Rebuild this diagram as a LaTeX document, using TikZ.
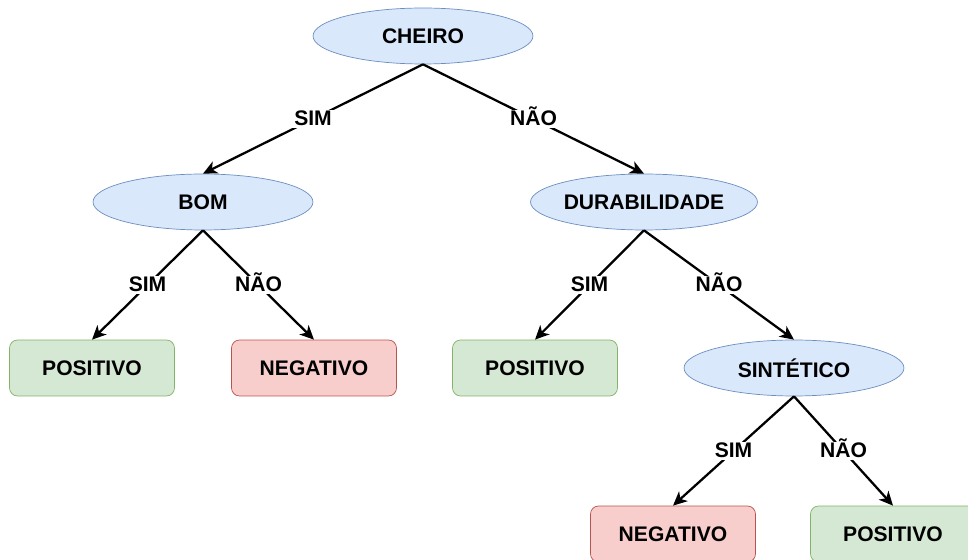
\documentclass[tikz,border=0pt]{standalone}
\usepackage{fontspec}
\setmainfont{Liberation Sans}
\usetikzlibrary{arrows.meta,shapes.geometric}
\definecolor{BlueFill}{HTML}{DAE8FC}
\definecolor{BlueLine}{HTML}{6C8EBF}
\definecolor{GreenFill}{HTML}{D5E8D4}
\definecolor{GreenLine}{HTML}{82B366}
\definecolor{RedFill}{HTML}{F8CECC}
\definecolor{RedLine}{HTML}{B85450}

\begin{document}
\begin{tikzpicture}[x=.02cm,y=-.02cm,
    font=\fontsize{12}{14}\selectfont\bfseries,
    test/.style={ellipse,draw=BlueLine,fill=BlueFill,minimum width=4.4cm,minimum height=1.12cm,inner sep=0pt},
    leaf/.style={rectangle,rounded corners=.16cm,minimum width=3.3cm,minimum height=1.12cm},
    good/.style={leaf,draw=GreenLine,fill=GreenFill},
    bad/.style={leaf,draw=RedLine,fill=RedFill},
    branch/.style={-{Stealth[length=.28cm,width=.26cm,inset=.08cm]},line width=1.3pt},
    answer/.style={fill=white,inner sep=1.5pt,text height=.72em,text depth=0pt,midway}]
        \clip(0,0)rectangle(968,560);
        % questions
        \node[test](cheiro)at(423,36){CHEIRO};
        \node[test](bom)at(203,202){BOM};
        \node[test](durab)at(644,202){DURABILIDADE};
        \node[test](sint)at(794,368){SINTÉTICO};
        % answers
        \node[good](pos1)at(92,368){POSITIVO};
        \node[bad](neg1)at(314,368){NEGATIVO};
        \node[good](pos2)at(535,368){POSITIVO};
        \node[bad](neg2)at(673,534){NEGATIVO};
        \node[good](pos3)at(893,534){POSITIVO};
        % branches
        \draw[branch](cheiro.south)--node[answer]{SIM}(bom.north);
        \draw[branch](cheiro.south)--node[answer]{NÃO}(durab.north);
        \draw[branch](bom.south)--node[answer]{SIM}(pos1.north);
        \draw[branch](bom.south)--node[answer]{NÃO}(neg1.north);
        \draw[branch](durab.south)--node[answer]{SIM}(pos2.north);
        \draw[branch](durab.south)--node[answer]{NÃO}(sint.north);
        \draw[branch](sint.south)--node[answer]{SIM}(neg2.north);
        \draw[branch](sint.south)--node[answer]{NÃO}(pos3.north);
      \end{tikzpicture}
\end{document}
